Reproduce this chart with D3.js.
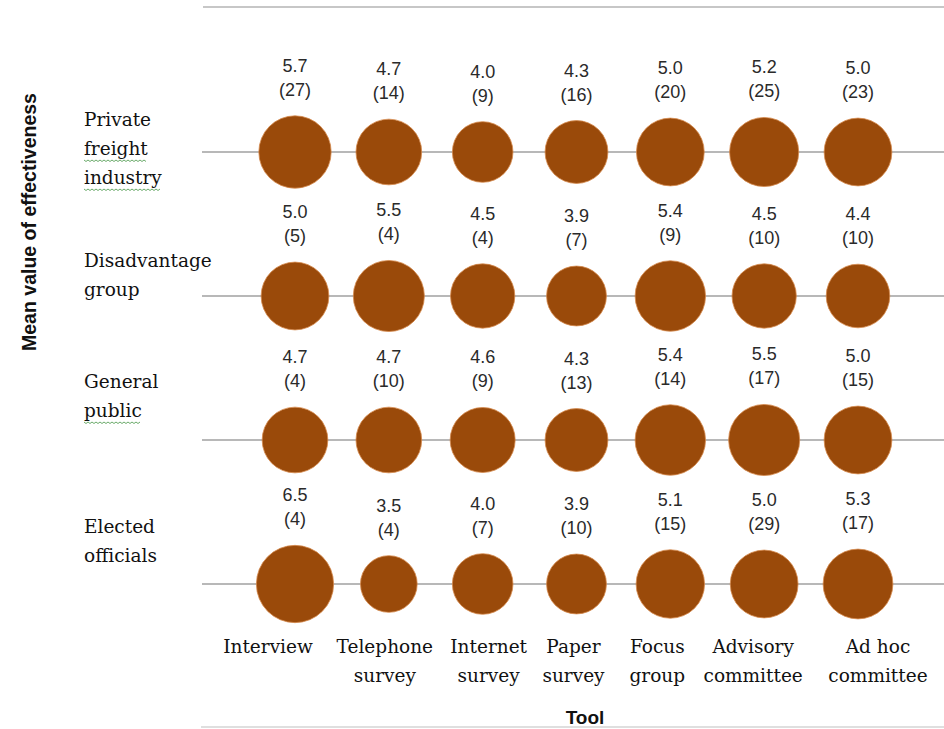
<!DOCTYPE html>
<html>
<head>
<meta charset="utf-8">
<script src="https://cdn.jsdelivr.net/npm/d3@7"></script>
<style>
  html, body { margin: 0; padding: 0; background: #fff; }
  svg { display: block; }
</style>
</head>
<body>
<script>
// ---- data ----
const tools = ["Interview", "Telephone survey", "Internet survey", "Paper survey", "Focus group", "Advisory committee", "Ad hoc committee"];
const toolLabelLines = [["Interview"], ["Telephone", "survey"], ["Internet", "survey"], ["Paper", "survey"], ["Focus", "group"], ["Advisory", "committee"], ["Ad hoc", "committee"]];
const groups = ["Private freight industry", "Disadvantage group", "General public", "Elected officials"];
const groupLabelLines = [["Private", "freight", "industry"], ["Disadvantage", "group"], ["General", "public"], ["Elected", "officials"]];
const meanPrivate = [5.7, 4.7, 4.0, 4.3, 5.0, 5.2, 5.0];
const nPrivate = [27, 14, 9, 16, 20, 25, 23];
const meanDisadv = [5.0, 5.5, 4.5, 3.9, 5.4, 4.5, 4.4];
const nDisadv = [5, 4, 4, 7, 9, 10, 10];
const meanPublic = [4.7, 4.7, 4.6, 4.3, 5.4, 5.5, 5.0];
const nPublic = [4, 10, 9, 13, 14, 17, 15];
const meanElected = [6.5, 3.5, 4.0, 3.9, 5.1, 5.0, 5.3];
const nElected = [4, 4, 7, 10, 15, 29, 17];

const meanRows = [meanPrivate, meanDisadv, meanPublic, meanElected];
const nRows = [nPrivate, nDisadv, nPublic, nElected];

// ---- layout / style ----
const W = 944, H = 729;
const toolLabelOffset = [-27, -4, 6, -3, -13, -11, 20];
const groupLabelOffset = [-26, -29, -52, -51];
const spellChecked = {"freight": true, "industry": true, "public": true};

const svg = d3.select("body").append("svg").attr("width", W).attr("height", H);

const x = d3.scalePoint().domain(tools).range([295, 858]);
const y = d3.scalePoint().domain(groups).range([152, 584]);
const r = d3.scaleSqrt().domain([0, 7]).range([0, 40.1]);

const cells = [];
groups.forEach((g, gi) => tools.forEach((t, ti) => cells.push({g, t, mean: meanRows[gi][ti], n: nRows[gi][ti]})));

// frame lines
svg.append("line").attr("x1", 203).attr("x2", W).attr("y1", 7).attr("y2", 7)
  .attr("stroke", "#b4b4b4").attr("stroke-width", 1.5);
svg.append("line").attr("x1", 201).attr("x2", W).attr("y1", 727).attr("y2", 727)
  .attr("stroke", "#d4d4d4").attr("stroke-width", 1.5);

// row lines
svg.append("g").selectAll("line").data(groups).join("line")
  .attr("x1", 202).attr("x2", W)
  .attr("y1", d => y(d)).attr("y2", d => y(d))
  .attr("stroke", "#b8b8b8").attr("stroke-width", 2);

// bubbles
svg.append("g").selectAll("circle").data(cells).join("circle")
  .attr("cx", d => x(d.t)).attr("cy", d => y(d.g)).attr("r", d => r(d.mean))
  .attr("fill", "#9a4a0a").attr("stroke", "#d68a4e").attr("stroke-width", 0.8);

// value labels
const vl = svg.append("g").attr("font-family", "Liberation Sans, Arial, sans-serif")
  .attr("font-size", 18).attr("fill", "#2a2a2a").attr("text-anchor", "middle");
vl.selectAll("text.m").data(cells).join("text").attr("class", "m")
  .attr("x", d => x(d.t)).attr("y", d => y(d.g) - r(d.mean) - 44)
  .text(d => d.mean.toFixed(1));
vl.selectAll("text.n").data(cells).join("text").attr("class", "n")
  .attr("x", d => x(d.t)).attr("y", d => y(d.g) - r(d.mean) - 20)
  .text(d => "(" + d.n + ")");

// row (group) labels
const gl = svg.append("g").attr("font-family", "DejaVu Serif, serif").attr("font-size", 18.5).attr("fill", "#111");
groups.forEach((g, gi) => {
  groupLabelLines[gi].forEach((line, li) => {
    const by = y(g) + groupLabelOffset[gi] + li * 29;
    const t = gl.append("text").attr("x", 84).attr("y", by).text(line);
    if (spellChecked[line]) {
      const w = t.node().getComputedTextLength();
      const pts = [];
      for (let xx = 84; xx <= 84 + w; xx += 2) pts.push([xx, by + 5 + ((Math.round((xx - 84) / 2) % 2) ? 1.5 : 0)]);
      gl.append("path").attr("d", d3.line()(pts)).attr("fill", "none")
        .attr("stroke", "#5aa05a").attr("stroke-width", 0.9);
    }
  });
});

// tool labels (x axis)
const tl = svg.append("g").attr("font-family", "DejaVu Serif, serif").attr("font-size", 18.5)
  .attr("fill", "#111").attr("text-anchor", "middle");
tools.forEach((t, ti) => {
  toolLabelLines[ti].forEach((line, li) => {
    tl.append("text").attr("x", x(t) + toolLabelOffset[ti]).attr("y", 653 + li * 29).text(line);
  });
});

// axis titles
svg.append("text").attr("x", 585).attr("y", 724).attr("text-anchor", "middle")
  .attr("font-family", "Liberation Sans, Arial, sans-serif").attr("font-weight", "bold")
  .attr("font-size", 19).attr("fill", "#111").text("Tool");
svg.append("text").attr("transform", "translate(36,222) rotate(-90)").attr("text-anchor", "middle")
  .attr("font-family", "Liberation Sans, Arial, sans-serif").attr("font-weight", "bold")
  .attr("font-size", 19.5).attr("fill", "#111").text("Mean value of effectiveness");
</script>
</body>
</html>
